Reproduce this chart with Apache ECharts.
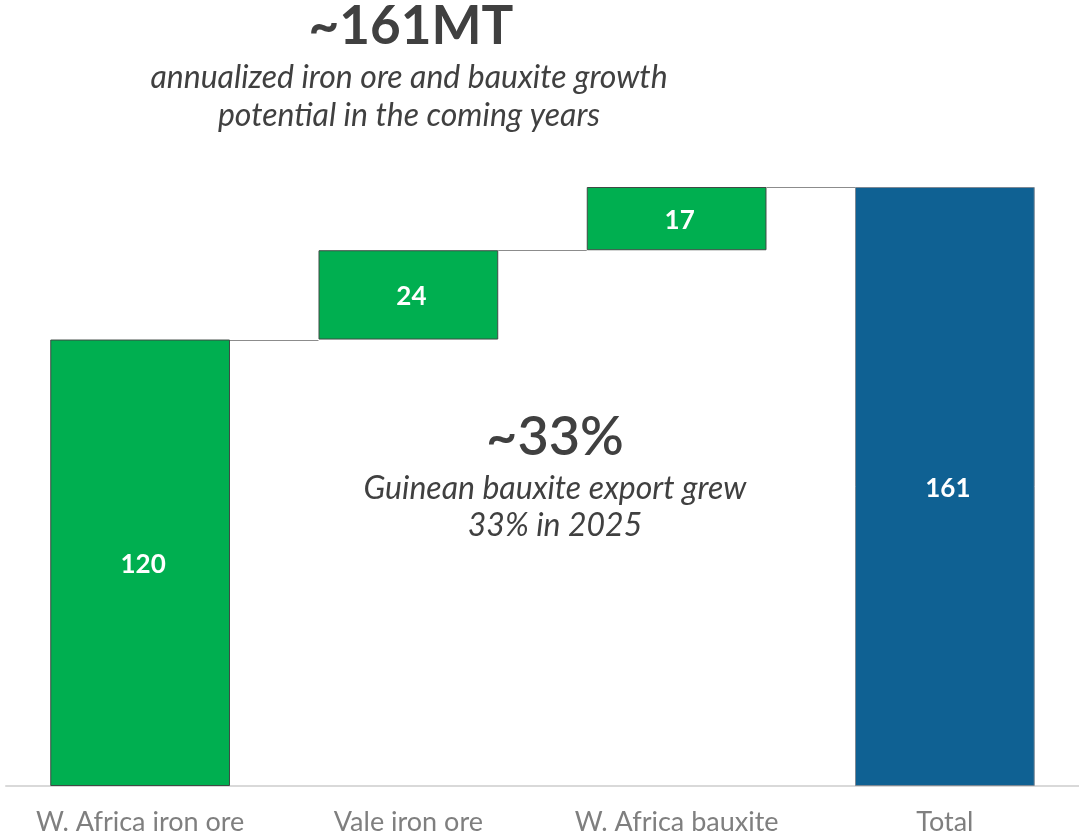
<!DOCTYPE html>
<html>
<head>
<meta charset="utf-8">
<script src="https://cdn.jsdelivr.net/npm/echarts@6/dist/echarts.min.js"></script>
<style>html,body{margin:0;padding:0;background:#fff;}#c{width:1079px;height:836px;}</style>
</head>
<body>
<div id="c"></div>
<script>
const categories = ['W. Africa iron ore', 'Vale iron ore', 'W. Africa bauxite', 'Total'];
const values = [120, 24, 17, 161];
const isTotal = [false, false, false, true];

// invisible base for waterfall, derived from values
const bases = [];
let run = 0;
values.forEach((v, i) => {
  if (isTotal[i]) { bases.push(0); }
  else { bases.push(run); run += v; }
});
const tops = values.map((v, i) => bases[i] + v);

const GREEN = '#00AF50';
const BLUE = '#0F6193';
const FONT = 'Lato';

const chart = echarts.init(document.getElementById('c'), null, {renderer: 'canvas'});
const option = {
  animation: false,
  grid: {left: 6, right: 0, top: 187, bottom: 49, containLabel: false},
  xAxis: {
    type: 'category',
    data: categories,
    axisLine: {show: true, lineStyle: {color: '#D9D9D9', width: 2}},
    axisTick: {show: false},
    axisLabel: {color: '#7F7F7F', fontSize: 27, fontFamily: FONT, margin: 23, interval: 0}
  },
  yAxis: {type: 'value', min: 0, max: 161, show: false, splitLine: {show: false}},
  series: [
    {
      type: 'bar', stack: 'w', data: bases, barCategoryGap: '33%',
      itemStyle: {color: 'transparent'}, silent: true
    },
    {
      type: 'bar', stack: 'w', barCategoryGap: '33%',
      data: values.map((v, i) => ({
        value: v,
        itemStyle: isTotal[i]
          ? {color: BLUE, borderColor: '#7C8894', borderWidth: 1}
          : {color: GREEN, borderColor: '#3F4A44', borderWidth: 1}
      })),
      label: {show: true, position: 'inside', offset: [3, 2], color: '#fff', fontSize: 26, fontWeight: 'bold', fontFamily: FONT}
    },
    {
      type: 'custom',
      data: tops.slice(0, tops.length - 1).map((t, i) => [i, t]),
      renderItem: function (params, api) {
        const i = api.value(0);
        const t = api.value(1);
        const p1 = api.coord([i, t]);
        const p2 = api.coord([i + 1, t]);
        const band = api.size([1, 0])[0];
        const half = band * 0.67 / 2;
        return {
          type: 'line',
          shape: {x1: p1[0] + half, y1: Math.round(p1[1]) + 0.5, x2: p2[0] - half, y2: Math.round(p1[1]) + 0.5},
          style: {stroke: '#8C8C8C', lineWidth: 1}
        };
      },
      z: 1
    }
  ],
  graphic: [
    {type: 'text', x: 411, y: 27, style: {text: '~161MT', fill: '#404040', font: 'bold 53px Lato', textAlign: 'center', textVerticalAlign: 'middle'}},
    {type: 'text', x: 409, y: 78, style: {text: 'annualized iron ore and bauxite growth', fill: '#404040', font: 'italic 32px Lato', textAlign: 'center', textVerticalAlign: 'middle'}},
    {type: 'text', x: 409, y: 116, style: {text: 'potential in the coming years', fill: '#404040', font: 'italic 32px Lato', textAlign: 'center', textVerticalAlign: 'middle'}},
    {type: 'text', x: 555, y: 438, style: {text: '~33%', fill: '#404040', font: '600 54px Lato', textAlign: 'center', textVerticalAlign: 'middle'}},
    {type: 'text', x: 555, y: 489, style: {text: 'Guinean bauxite export grew', fill: '#404040', font: 'italic 32px Lato', textAlign: 'center', textVerticalAlign: 'middle'}},
    {type: 'text', x: 555, y: 526, style: {text: '33% in 2025', fill: '#404040', font: 'italic 32px Lato', textAlign: 'center', textVerticalAlign: 'middle'}}
  ]
};
chart.setOption(option);
</script>
</body>
</html>
